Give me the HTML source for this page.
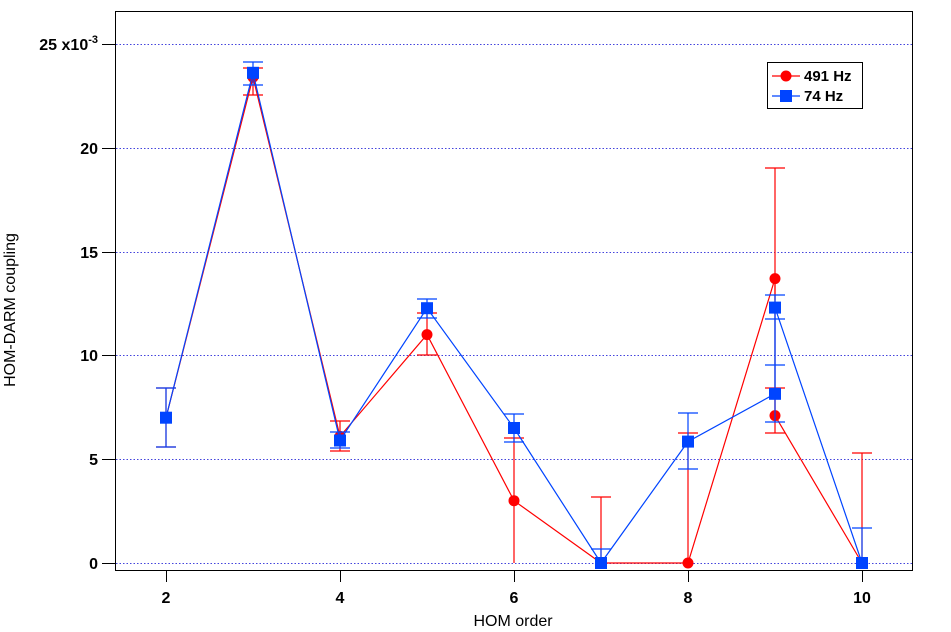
<!DOCTYPE html>
<html><head><style>body{margin:0;background:#fff}svg{display:block;font-family:"Liberation Sans",Arial,sans-serif}</style></head><body>
<svg width="951" height="632" viewBox="0 0 951 632">
<g stroke="#4444dd" stroke-width="1" stroke-dasharray="1.5,2">
<line x1="116" y1="44.5" x2="912" y2="44.5"/><line x1="116" y1="148.5" x2="912" y2="148.5"/><line x1="116" y1="252.5" x2="912" y2="252.5"/><line x1="116" y1="355.5" x2="912" y2="355.5"/><line x1="116" y1="459.5" x2="912" y2="459.5"/><line x1="116" y1="563.5" x2="912" y2="563.5"/>
</g>
<rect x="115.5" y="11.5" width="797" height="559" fill="none" stroke="#000" stroke-width="1"/>
<g stroke="#000"><line x1="102" y1="44.5" x2="115" y2="44.5"/><line x1="102" y1="148.5" x2="115" y2="148.5"/><line x1="102" y1="252.5" x2="115" y2="252.5"/><line x1="102" y1="355.5" x2="115" y2="355.5"/><line x1="102" y1="459.5" x2="115" y2="459.5"/><line x1="102" y1="563.5" x2="115" y2="563.5"/>
<line x1="166.5" y1="571" x2="166.5" y2="582"/><line x1="340.5" y1="571" x2="340.5" y2="582"/><line x1="514.5" y1="571" x2="514.5" y2="582"/><line x1="688.5" y1="571" x2="688.5" y2="582"/><line x1="862.5" y1="571" x2="862.5" y2="582"/></g>
<g font-size="16" text-anchor="end" fill="#000" font-weight="bold">
<text x="98" y="50">25 x10<tspan font-size="11" dy="-7">-3</tspan></text>
<text x="98" y="154">20</text><text x="98" y="258">15</text><text x="98" y="361">10</text><text x="98" y="465">5</text><text x="98" y="569">0</text></g>
<g font-size="16" text-anchor="middle"><g font-weight="bold"><text x="166" y="603">2</text><text x="340" y="603">4</text><text x="514" y="603">6</text><text x="688" y="603">8</text><text x="862" y="603">10</text></g>
<text x="513" y="626">HOM order</text>
<text transform="translate(15,310) rotate(-90)">HOM-DARM coupling</text></g>
<g stroke="#f00" stroke-width="1.2" fill="none">
<path d="M166 388V447M156 388H176M156 447H176M253 68V95M243 68H263M243 95H263M340 421V451M330 421H350M330 451H350M427 313V355M417 313H437M417 355H437M514 438V563M504 438H524M601 497V563M591 497H611M688 433V563M678 433H698M775 168V300M765 168H785M775 388V433M765 433H785M765 388H785M862 453V563M852 453H872"/>
<polyline points="166,417.7 253,77.2 340,436.4 427,334.6 514,500.7 601,563 688,563 775,278.6 775,415.6 862,563"/>
</g>
<g fill="#f00"><circle cx="166" cy="417.7" r="5.5"/><circle cx="253" cy="77.2" r="5.5"/><circle cx="340" cy="436.4" r="5.5"/><circle cx="427" cy="334.6" r="5.5"/><circle cx="514" cy="500.7" r="5.5"/><circle cx="601" cy="563" r="5.5"/><circle cx="688" cy="563" r="5.5"/><circle cx="775" cy="278.6" r="5.5"/><circle cx="775" cy="415.6" r="5.5"/><circle cx="862" cy="563" r="5.5"/></g>
<g stroke="#0044ff" stroke-width="1.2" fill="none">
<path d="M166 388V447M156 388H176M156 447H176M253 62V85M243 62H263M243 85H263M340 432V448M330 432H350M330 448H350M427 299V318M417 299H437M417 318H437M514 414V442M504 414H524M504 442H524M601 549V563M591 549H611M688 413V469M678 413H698M678 469H698M775 295V422M765 295H785M765 319H785M765 365H785M765 422H785M862 528V563M852 528H872"/>
<polyline points="166,417.7 253,72.8 340,440.5 427,308.2 514,428 601,563 688,441.6 775,393.8 775,307.6 862,563"/>
</g>
<g fill="#0044ff"><rect x="160" y="411.7" width="12" height="12"/><rect x="247" y="66.8" width="12" height="12"/><rect x="334" y="434.5" width="12" height="12"/><rect x="421" y="302.2" width="12" height="12"/><rect x="508" y="422" width="12" height="12"/><rect x="595" y="557" width="12" height="12"/><rect x="682" y="435.6" width="12" height="12"/><rect x="769" y="387.8" width="12" height="12"/><rect x="769" y="301.6" width="12" height="12"/><rect x="856" y="557" width="12" height="12"/></g>
<rect x="767.5" y="62.5" width="95" height="46" fill="#fff" stroke="#000"/>
<line x1="772" y1="76" x2="800" y2="76" stroke="#f00" stroke-width="1.2"/><circle cx="786" cy="76" r="5.5" fill="#f00"/>
<line x1="772" y1="96" x2="800" y2="96" stroke="#0044ff" stroke-width="1.2"/><rect x="780" y="90" width="12" height="12" fill="#0044ff"/>
<g font-size="15" fill="#000" font-weight="bold"><text x="804" y="81">491 Hz</text><text x="804" y="101">74 Hz</text></g>
</svg>
</body></html>
